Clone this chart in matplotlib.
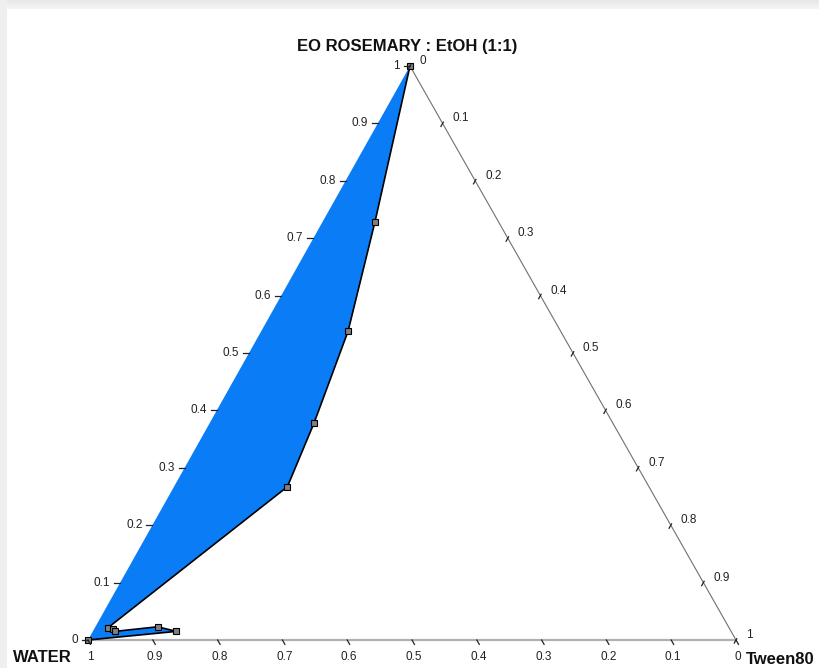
import numpy as np
import matplotlib
matplotlib.use("Agg")
import matplotlib.pyplot as plt
from matplotlib.transforms import offset_copy

plt.rcParams["font.family"] = ["Liberation Sans", "DejaVu Sans"]

# Phase-boundary points as mass fractions (EO:EtOH, Tween80); water is the remainder
eo_frac = [0.0, 1.0, 0.728, 0.538, 0.378, 0.267, 0.021, 0.019, 0.015, 0.023, 0.015]
tween_frac = [0.0, 0.0, 0.081, 0.134, 0.161, 0.175, 0.020, 0.029, 0.034, 0.096, 0.129]

tick_values = [0.0, 0.1, 0.2, 0.3, 0.4, 0.5, 0.6, 0.7, 0.8, 0.9, 1.0]
tick_labels = ["0", "0.1", "0.2", "0.3", "0.4", "0.5", "0.6", "0.7", "0.8", "0.9", "1"]

title = "EO ROSEMARY : EtOH (1:1)"
left_corner = "WATER"
right_corner = "Tween80"

W, H = 819, 668
fig = plt.figure(figsize=(W / 100, H / 100), dpi=100)

# light grey window frame behind the white panel
bg = fig.add_axes([0, 0, 1, 1])
bg.axis("off")
img = np.ones((H, W, 3))
for r in range(9):
    img[r, :, :] = 0.91 + 0.05 * r / 8
img[:, :7, :] = 0.94
bg.imshow(img, aspect="auto", interpolation="bilinear")

# triangle area in pixels: base from x=88 to x=736 at y=640, apex at y=66
ax = fig.add_axes([88 / W, 28 / H, 648 / W, 574 / H])
ax.set_xlim(0, 1)
ax.set_ylim(0, 1)
ax.axis("off")
ax.patch.set_alpha(0)

PX_X, PX_Y = 648.0, 574.0
apex_x = (410 - 88) / PX_X


def to_xy(eo, tw):
    eo = np.asarray(eo, dtype=float)
    tw = np.asarray(tw, dtype=float)
    return tw + eo * apex_x, eo


# triangle edges (the left one is covered by the filled region)
ax.plot([apex_x, 1], [1, 0], color="#707070", lw=0.8, zorder=1, clip_on=False)
ax.plot([0, 1], [0, 0], color="#b0b0b0", lw=1.6, zorder=1, clip_on=False)

# single-phase region
px, py = to_xy(eo_frac, tween_frac)
ax.fill(px, py, color="#0a7cf6", lw=0, zorder=2, clip_on=False)
ox = list(px[1:]) + [px[0]]
oy = list(py[1:]) + [py[0]]
ax.plot(ox, oy, color="black", lw=1.2, zorder=3, clip_on=False)
ax.plot(px, py, "s", ms=4.5, mfc="#808080", mec="black", mew=0.8,
        zorder=4, clip_on=False)

tick_col = "#222222"
fs_tick = 8.5

# left axis: EO:EtOH fraction
for v, lab in zip(tick_values, tick_labels):
    x0, y0 = to_xy(v, 0.0)
    ax.plot([x0, x0 - 6 / PX_X], [y0, y0], color=tick_col, lw=0.9,
            zorder=5, clip_on=False)
    ax.text(x0, y0, lab, fontsize=fs_tick, color=tick_col, ha="right",
            va="center", transform=offset_copy(ax.transData, fig, x=-10, y=0, units="dots"))

# bottom axis: water fraction (1 at the left corner)
bdx, bdy = 0.494, 0.870
for v, lab in zip(tick_values, tick_labels):
    x0, y0 = to_xy(0.0, 1.0 - v)
    ax.plot([x0, x0 + 5 * bdx / PX_X], [y0, y0 - 5 * bdy / PX_Y], color=tick_col,
            lw=0.9, zorder=5, clip_on=False)
    ax.text(x0, y0, lab, fontsize=fs_tick, color=tick_col, ha="center",
            va="center", transform=offset_copy(ax.transData, fig, x=2, y=-17, units="dots"))

# right axis: Tween80 fraction (0 at the apex)
rdx, rdy = 0.489, 0.872
for v, lab in zip(tick_values, tick_labels):
    x0, y0 = to_xy(1.0 - v, v)
    ax.plot([x0 - 3.5 * rdx / PX_X, x0 + 1.5 * rdx / PX_X],
            [y0 - 3.5 * rdy / PX_Y, y0 + 1.5 * rdy / PX_Y],
            color=tick_col, lw=0.9, zorder=5, clip_on=False)
    ax.text(x0, y0, lab, fontsize=fs_tick, color=tick_col, ha="left",
            va="center", transform=offset_copy(ax.transData, fig, x=10, y=5, units="dots"))

fig.text(407 / W, 1 - 46 / H, title, fontsize=12, fontweight="bold",
         ha="center", va="center", color="#111111")
fig.text(42 / W, 1 - 658 / H, left_corner, fontsize=12, fontweight="bold",
         ha="center", va="center", color="#111111")
fig.text(780 / W, 1 - 659 / H, right_corner, fontsize=12, fontweight="bold",
         ha="center", va="center", color="#111111")

fig.savefig("out.png", dpi=100)
